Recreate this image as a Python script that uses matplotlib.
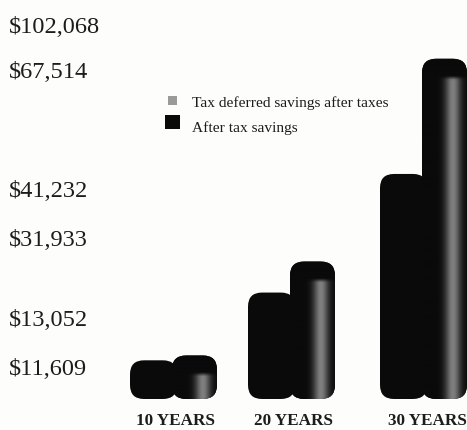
import numpy as np
import matplotlib
matplotlib.use('Agg')
import matplotlib.pyplot as plt
from matplotlib.patches import FancyBboxPatch, Rectangle

W, H = 467, 431

# Savings values, in dollars
years = ['10 YEARS', '20 YEARS', '30 YEARS']
after_tax = [11609, 31933, 67514]
tax_deferred = [13052, 41232, 102068]
value_labels = ['$102,068', '$67,514', '$41,232', '$31,933', '$13,052', '$11,609']
legend_labels = ['Tax deferred savings after taxes', 'After tax savings']

dollars_per_px = 300
baseline_px = 400
ink = '#0a0a0a'
paper = '#fdfdfb'

plt.rcParams['font.family'] = ['Liberation Serif', 'DejaVu Serif']

fig = plt.figure(figsize=(W / 100, H / 100), dpi=100, facecolor=paper)
ax = fig.add_axes([0, 0, 1, 1])
ax.set_facecolor(paper)
ax.set_xlim(0, W)
ax.set_ylim(-(H - baseline_px) * dollars_per_px, baseline_px * dollars_per_px)
ax.axis('off')


# Rounded column, optionally with a lit stripe down its right half
def column(left, width, value, lit=False):
    box = FancyBboxPatch((left, 0), width, value,
                         boxstyle='round,pad=0,rounding_size=14',
                         mutation_aspect=dollars_per_px,
                         facecolor=ink, edgecolor='none', zorder=2)
    ax.add_patch(box)
    if not lit:
        return
    # Stripe stays dark near the top cap and fades in over a few pixels
    xs = np.linspace(0, 1, 90)
    across = np.exp(-((xs - 0.69) / 0.17) ** 2)
    ys = np.linspace(0, 1, 200)
    cap = 17 * dollars_per_px
    top_fade = np.clip((value - cap - ys * value) / (4 * dollars_per_px), 0, 1)
    shade = 0.04 + 0.46 * np.outer(top_fade, across)
    im = ax.imshow(shade, cmap='gray', vmin=0, vmax=1, origin='lower',
                   extent=(left, left + width, 0, value),
                   aspect='auto', interpolation='bilinear', zorder=3)
    im.set_clip_path(box)


short_lefts = [130, 248, 380]
tall_lefts = [172, 290, 422]
bar_width = 45

for i in range(len(years)):
    column(short_lefts[i], bar_width + 2, after_tax[i])
    column(tall_lefts[i], bar_width, tax_deferred[i], lit=True)

ax.set_xlim(0, W)
ax.set_ylim(-(H - baseline_px) * dollars_per_px, baseline_px * dollars_per_px)


# Places text by pixel position from the top left corner
def label(x, y, s, **kw):
    fig.text(x / W, 1 - y / H, s, va='center', color='#1c1c1c', **kw)


value_ys = [28, 73, 192, 241, 321, 370]
for y, s in zip(value_ys, value_labels):
    label(9, y, s, fontsize=17.6)

year_xs = [176, 294, 427]
for x, s in zip(year_xs, years):
    label(x, 421, s, fontsize=12.3, fontweight='bold', ha='center')

# Legend
fig.add_artist(Rectangle((168 / W, 1 - 106 / H), 9 / W, 9 / H, transform=fig.transFigure,
                         facecolor='#9a9a9a', edgecolor='none'))
fig.add_artist(Rectangle((165 / W, 1 - 130 / H), 15 / W, 14 / H, transform=fig.transFigure,
                         facecolor=ink, edgecolor='none'))
label(192, 103, legend_labels[0], fontsize=11.1)
label(192, 128, legend_labels[1], fontsize=11.1)

fig.savefig('out.png', dpi=100, facecolor=paper)
